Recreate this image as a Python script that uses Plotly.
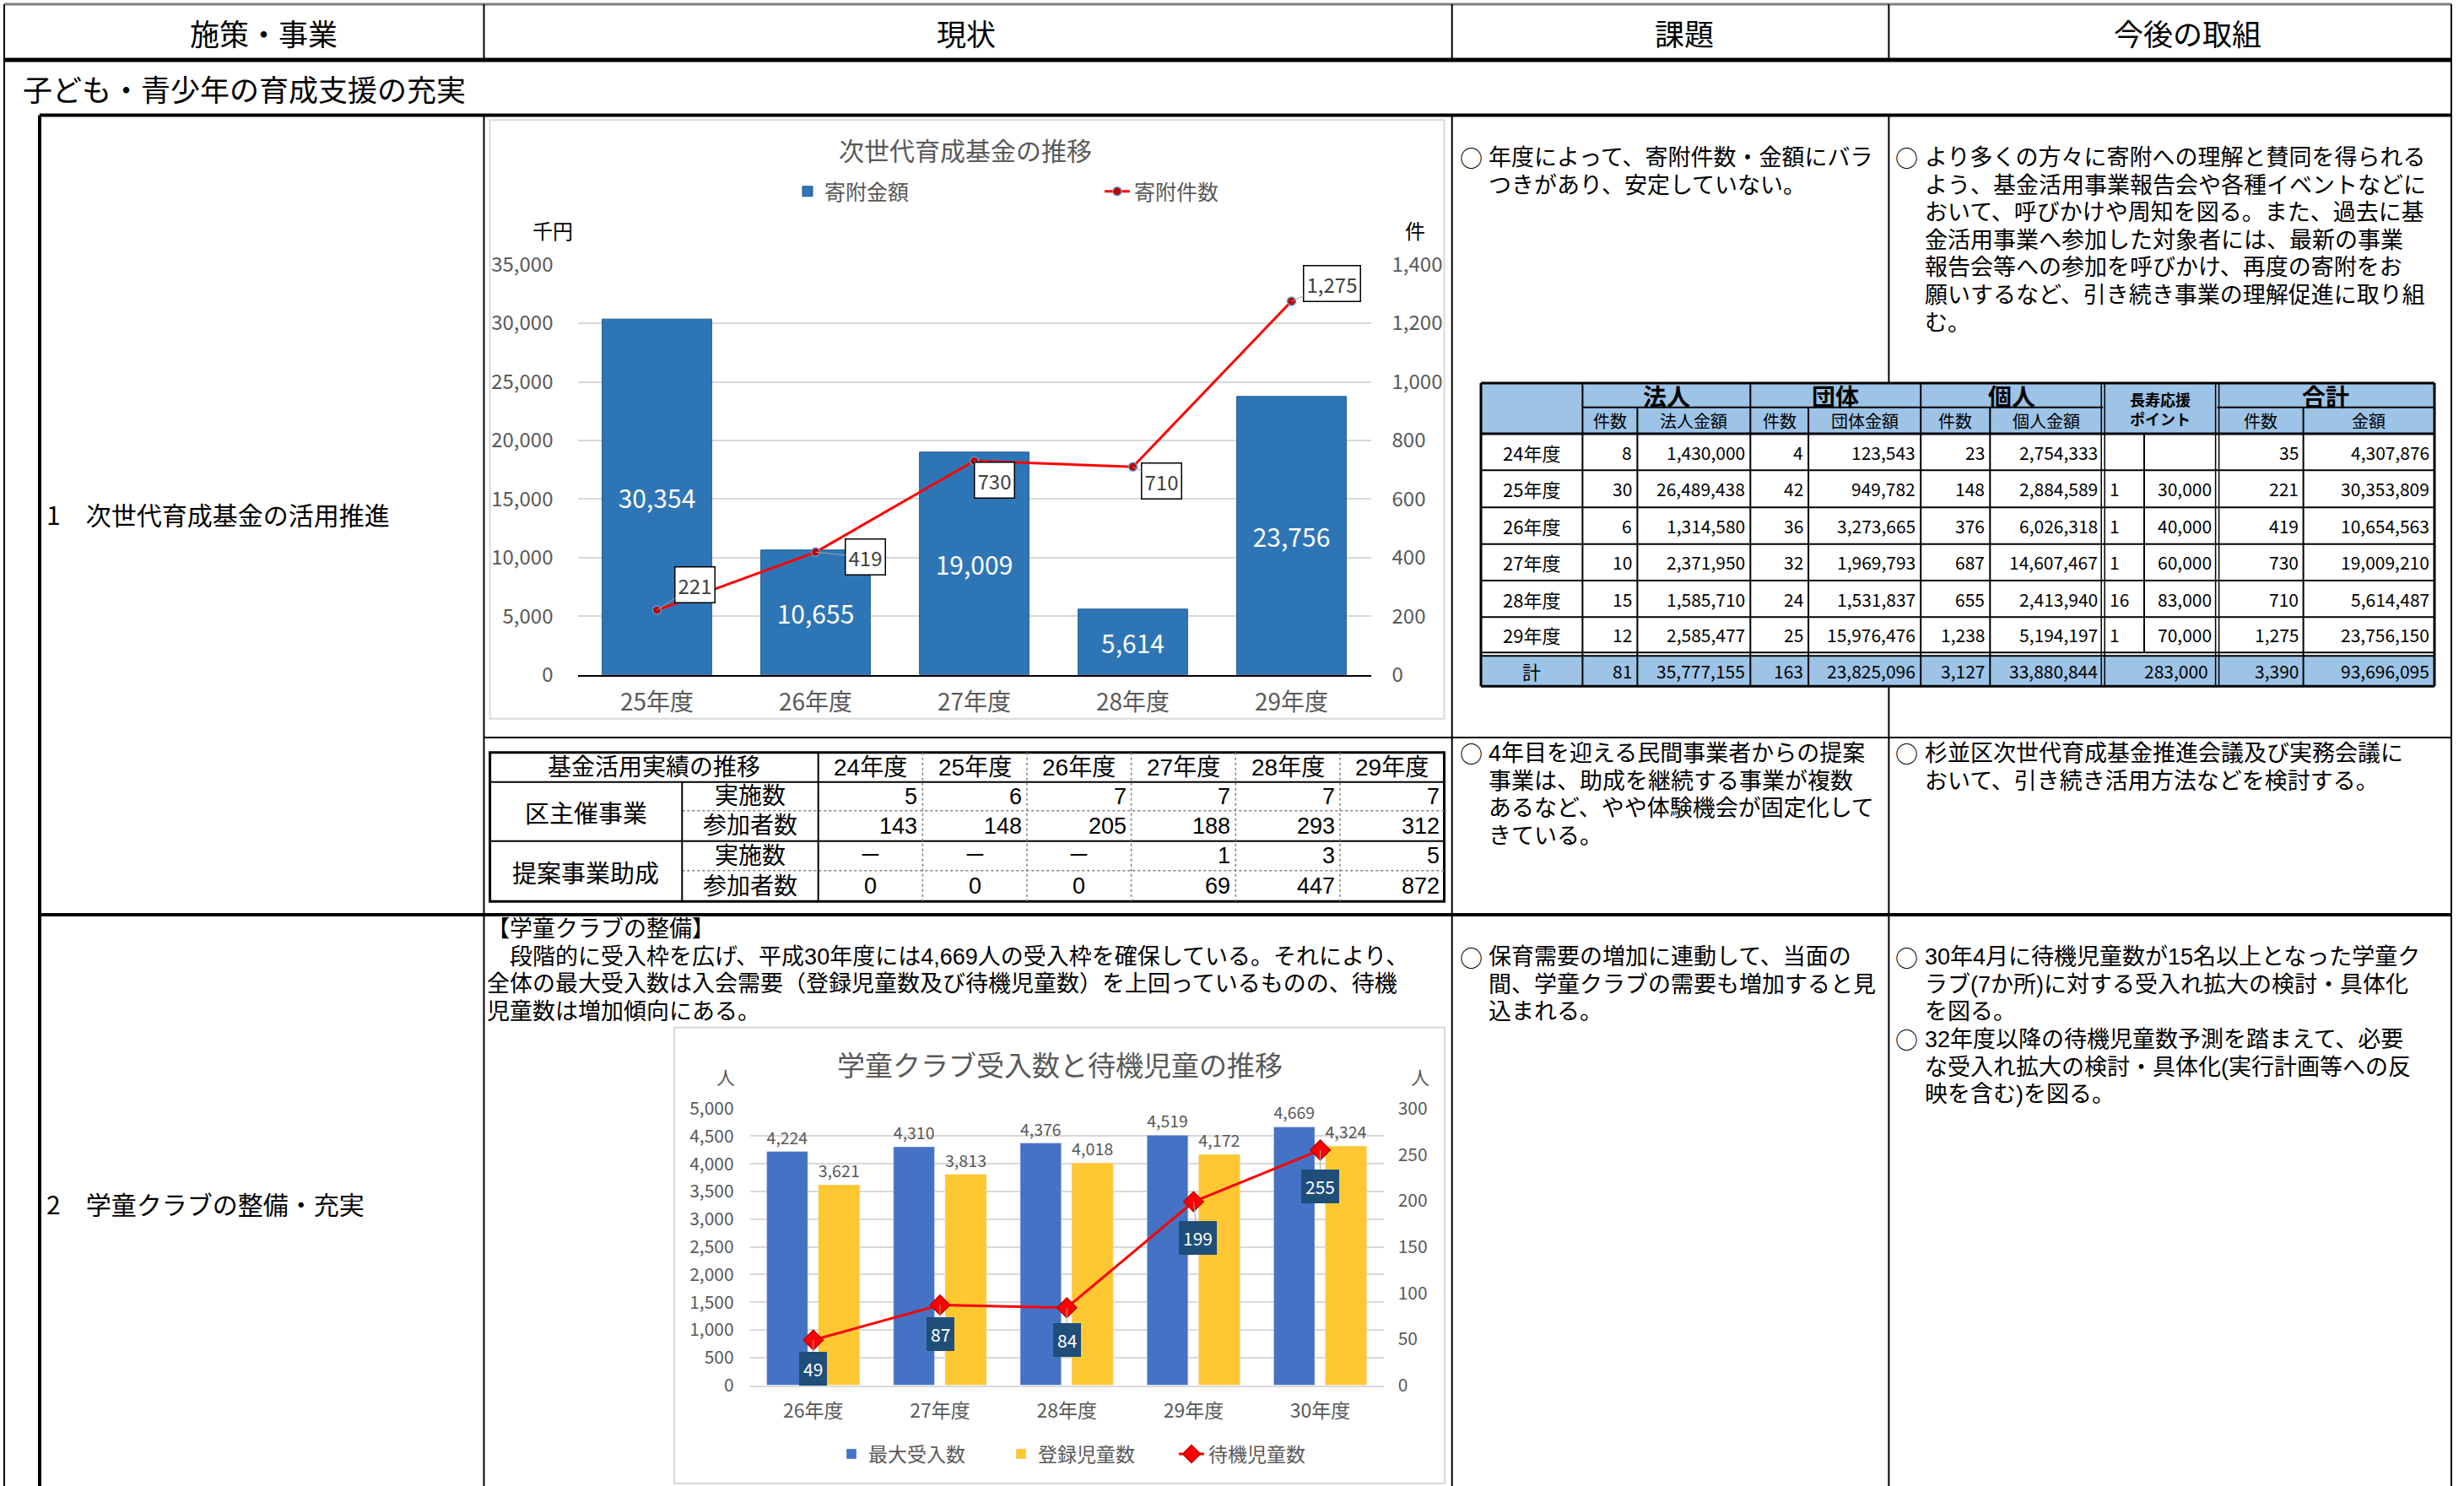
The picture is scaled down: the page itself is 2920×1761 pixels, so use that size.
import plotly.graph_objects as go

W, H = 2920, 1761
FONT = "Noto Sans CJK JP, Noto Sans, sans-serif"
BODY_FONT = "Liberation Sans, Noto Sans CJK JP, sans-serif"
GRAY = "#595959"

# ---------------- data ----------------
years1 = ["25年度", "26年度", "27年度", "28年度", "29年度"]
kifu_kingaku = [30354, 10655, 19009, 5614, 23756]      # 千円
kifu_kensu = [221, 419, 730, 710, 1275]                 # 件

years2 = ["26年度", "27年度", "28年度", "29年度", "30年度"]
max_ukeire = [4224, 4310, 4376, 4519, 4669]
toroku_jido = [3621, 3813, 4018, 4172, 4324]
taiki_jido = [49, 87, 84, 199, 255]

don_years = ["24年度", "25年度", "26年度", "27年度", "28年度", "29年度"]
hojin_n = [8, 30, 6, 10, 15, 12]
hojin_amt = [1430000, 26489438, 1314580, 2371950, 1585710, 2585477]
dantai_n = [4, 42, 36, 32, 24, 25]
dantai_amt = [123543, 949782, 3273665, 1969793, 1531837, 15976476]
kojin_n = [23, 148, 376, 687, 655, 1238]
kojin_amt = [2754333, 2884589, 6026318, 14607467, 2413940, 5194197]
choju_n = [None, 1, 1, 1, 16, 1]
choju_amt = [None, 30000, 40000, 60000, 83000, 70000]
total_n = [35, 221, 419, 730, 710, 1275]
total_amt = [4307876, 30353809, 10654563, 19009210, 5614487, 23756150]
don_sum_row = [81, 35777155, 163, 23825096, 3127, 33880844, 283000, 3390, 93696095]

fund_years = ["24年度", "25年度", "26年度", "27年度", "28年度", "29年度"]
ku_jisshi = [5, 6, 7, 7, 7, 7]
ku_sanka = [143, 148, 205, 188, 293, 312]
teian_jisshi = [None, None, None, 1, 3, 5]
teian_sanka = [0, 0, 0, 69, 447, 872]

headers = ["施策・事業", "現状", "課題", "今後の取組"]
section_title = "子ども・青少年の育成支援の充実"
item1 = "1　次世代育成基金の活用推進"
item2 = "2　学童クラブの整備・充実"

kadai1a = ["年度によって、寄附件数・金額にバラ", "つきがあり、安定していない。"]
kongo1a = ["より多くの方々に寄附への理解と賛同を得られる",
           "よう、基金活用事業報告会や各種イベントなどに",
           "おいて、呼びかけや周知を図る。また、過去に基",
           "金活用事業へ参加した対象者には、最新の事業",
           "報告会等への参加を呼びかけ、再度の寄附をお",
           "願いするなど、引き続き事業の理解促進に取り組",
           "む。"]
kadai1b = ["4年目を迎える民間事業者からの提案", "事業は、助成を継続する事業が複数",
           "あるなど、やや体験機会が固定化して", "きている。"]
kongo1b = ["杉並区次世代育成基金推進会議及び実務会議に", "おいて、引き続き活用方法などを検討する。"]
kadai2 = ["保育需要の増加に連動して、当面の", "間、学童クラブの需要も増加すると見", "込まれる。"]
kongo2a = ["30年4月に待機児童数が15名以上となった学童ク", "ラブ(7か所)に対する受入れ拡大の検討・具体化", "を図る。"]
kongo2b = ["32年度以降の待機児童数予測を踏まえて、必要", "な受入れ拡大の検討・具体化(実行計画等への反", "映を含む)を図る。"]
genjo2 = ["【学童クラブの整備】",
          "　段階的に受入枠を広げ、平成30年度には4,669人の受入枠を確保している。それにより、",
          "全体の最大受入数は入会需要（登録児童数及び待機児童数）を上回っているものの、待機",
          "児童数は増加傾向にある。"]

# ---------------- helpers ----------------
def X(px):
    return px / W


def Y(py):
    return 1 - py / H


shapes, annos = [], []


def line(x0, y0, x1, y1, color="black", width=2, dash="solid"):
    shapes.append(dict(type="line", xref="paper", yref="paper", x0=X(x0), y0=Y(y0),
                       x1=X(x1), y1=Y(y1), line=dict(color=color, width=width, dash=dash),
                       layer="above"))


def rect(x0, y0, x1, y1, fill="rgba(0,0,0,0)", color="rgba(0,0,0,0)", width=0, layer="below"):
    shapes.append(dict(type="rect", xref="paper", yref="paper", x0=X(x0), y0=Y(y0),
                       x1=X(x1), y1=Y(y1), fillcolor=fill, line=dict(color=color, width=width),
                       layer=layer))


def text(px, py, s, size=27, color="black", anchor="left", bold=False, family=FONT):
    annos.append(dict(xref="paper", yref="paper", x=X(px), y=Y(py),
                      text=(f"<b>{s}</b>" if bold else s), showarrow=False,
                      xanchor=anchor, yanchor="middle", borderpad=0, borderwidth=0,
                      font=dict(size=size, color=color, family=family)))


STEP = 32.6


def block(px, y_first, lines, size=27, step=STEP):
    """multi-line paragraph as one text; line pitch = 1.3 * base font size"""
    base = step / 1.3
    body = "<br>".join(f'<span style="font-size:{size}px">{s}</span>' for s in lines)
    yc = y_first + (len(lines) - 1) * step / 2
    annos.append(dict(xref="paper", yref="paper", x=X(px), y=Y(yc), text=body,
                      showarrow=False, xanchor="left", yanchor="middle", align="left",
                      borderpad=0, borderwidth=0,
                      font=dict(size=base, color="black", family=BODY_FONT)))


def fmt(v):
    return "" if v is None else f"{v:,}"


# ---------------- main table frame ----------------
C0, C1, C2, C3, C4 = 5, 573.5, 1720.7, 2238.4, 2905
TT, TB = 454, 813.3   # donation table top / bottom (covers column line C3)
line(C0, 5, C4, 5, color="#808080", width=3)
line(C0, 71, C4, 71, width=5)
line(47, 136.5, C4, 136.5, width=4)
line(47, 1084, C4, 1084, width=4)
line(C1, 874, C4, 874, width=2)
line(C0, 5, C0, H, width=2)
line(C4, 5, C4, H, width=2)
for cx_ in (C1, C2, C3):
    line(cx_, 5, cx_, 71, width=2)
line(C1, 136.5, C1, H, width=2)
line(C2, 136.5, C2, H, width=2)
line(C3, 136.5, C3, TT, width=2)
line(C3, TB, C3, H, width=2)
line(47, 136.5, 47, H, width=4)

for s, cx_ in zip(headers, (312, 1145, 1996, 2592)):
    text(cx_, 38, s, size=35, anchor="center")
text(27, 104, section_title, size=35)
text(55, 609, item1, size=30)
text(55, 1426, item2, size=30)


def bullet_block(xb, xt, y0, lines):
    text(xb, y0, "○", size=27)
    block(xt, y0, lines)


bullet_block(1730, 1764, 187, kadai1a)
bullet_block(2246, 2281, 187, kongo1a)
bullet_block(1730, 1764, 893, kadai1b)
bullet_block(2246, 2281, 893, kongo1b)
bullet_block(1730, 1764, 1134, kadai2)
bullet_block(2246, 2281, 1134, kongo2a)
bullet_block(2246, 2281, 1134 + 3 * STEP, kongo2b)
block(577, 1101, genjo2)

# ---------------- donation table ----------------
cx = [1755, 1875.4, 1940.4, 2074.3, 2143.1, 2276.2, 2358.3, 2492.2, 2541, 2627.6, 2729.6, 2885]
ty = [TT, 482.7, 514, 557.3, 601.3, 644.7, 688, 731.3, 773.3]
tot0, tot1 = 777.3, TB
BLUE_FILL = "#9DC3E6"
rect(cx[0], ty[0], cx[-1], ty[2], fill=BLUE_FILL)
rect(cx[0], tot0, cx[-1], tot1, fill=BLUE_FILL)
line(cx[0], ty[0], cx[-1], ty[0], width=3)
line(cx[1], ty[1], cx[7], ty[1], width=2)
line(cx[9], ty[1], cx[-1], ty[1], width=2)
line(cx[0], ty[2], cx[-1], ty[2], width=3)
for yy in ty[3:8]:
    line(cx[0], yy, cx[-1], yy, width=2)
line(cx[0], ty[8], cx[-1], ty[8], width=2)
line(cx[0], tot0, cx[-1], tot0, width=2)
line(cx[0], tot1, cx[-1], tot1, width=3)
line(cx[0], ty[0], cx[0], tot1, width=3)
line(cx[-1], ty[0], cx[-1], tot1, width=3)
for i in (1, 3, 5):
    line(cx[i], ty[0], cx[i], tot1, width=2)
for i in (2, 4, 6, 10):
    line(cx[i], ty[1], cx[i], tot1, width=2)
for i in (7, 9):
    line(cx[i] - 2, ty[0], cx[i] - 2, tot1, width=1.5)
    line(cx[i] + 2, ty[0], cx[i] + 2, tot1, width=1.5)
line(cx[8], ty[2], cx[8], ty[8], width=2)

hy1 = (ty[0] + ty[1]) / 2
hy2 = (ty[1] + ty[2]) / 2
for lab, a, b in (("法人", 1, 3), ("団体", 3, 5), ("個人", 5, 7), ("合計", 9, 11)):
    text((cx[a] + cx[b]) / 2, hy1 + 1, lab, size=28, anchor="center", bold=True)
text((cx[7] + cx[9]) / 2, 473, "長寿応援", size=18, anchor="center", bold=True)
text((cx[7] + cx[9]) / 2, 496, "ポイント", size=18, anchor="center", bold=True)
for lab, a in (("件数", 1), ("法人金額", 2), ("件数", 3), ("団体金額", 4), ("件数", 5),
               ("個人金額", 6), ("件数", 9), ("金額", 10)):
    text((cx[a] + cx[a + 1]) / 2, hy2, lab, size=20, anchor="center")

NS = 21
for i, yr in enumerate(don_years):
    yy = (ty[2 + i] + ty[3 + i]) / 2
    text((cx[0] + cx[1]) / 2, yy, yr, size=22, anchor="center")
    vals = [hojin_n[i], hojin_amt[i], dantai_n[i], dantai_amt[i], kojin_n[i], kojin_amt[i]]
    for k, v in enumerate(vals):
        text(cx[k + 2] - 6, yy, fmt(v), size=NS, anchor="right")
    if choju_n[i] is not None:
        text(cx[7] + 8, yy, fmt(choju_n[i]), size=NS, anchor="left")
        text(cx[9] - 7, yy, fmt(choju_amt[i]), size=NS, anchor="right")
    text(cx[10] - 6, yy, fmt(total_n[i]), size=NS, anchor="right")
    text(cx[11] - 6, yy, fmt(total_amt[i]), size=NS, anchor="right")
ytot = (tot0 + tot1) / 2
text((cx[0] + cx[1]) / 2, ytot, "計", size=22, anchor="center")
right_edges = [cx[2], cx[3], cx[4], cx[5], cx[6], cx[7], cx[9] - 5, cx[10], cx[11]]
for v, re_ in zip(don_sum_row, right_edges):
    text(re_ - 6, ytot, fmt(v), size=NS, anchor="right")

# ---------------- fund usage table ----------------
fx = [580.6, 808.3, 969.7, 1093.4, 1217, 1340.6, 1464.3, 1587.9, 1711.5]
fy = [891.7, 926.7, 960.7, 996.7, 1031.7, 1068.3]
rect(fx[0], fy[0], fx[-1], fy[-1], color="black", width=3, layer="above")
line(fx[0], fy[1], fx[-1], fy[1], width=2)
line(fx[0], fy[3], fx[-1], fy[3], width=2)
line(fx[1], fy[2], fx[-1], fy[2], color="#808080", width=1.5, dash="dot")
line(fx[1], fy[4], fx[-1], fy[4], color="#808080", width=1.5, dash="dot")
line(fx[2], fy[0], fx[2], fy[-1], width=2)
line(fx[1], fy[1], fx[1], fy[-1], width=2)
for xx in fx[3:8]:
    line(xx, fy[0], xx, fy[-1], color="#808080", width=1.5, dash="dot")

FS = 28
FN = 27
text((fx[0] + fx[2]) / 2, (fy[0] + fy[1]) / 2, "基金活用実績の推移", size=FS, anchor="center",
     family=BODY_FONT)
for j, yr in enumerate(fund_years):
    text((fx[2 + j] + fx[3 + j]) / 2, (fy[0] + fy[1]) / 2, yr, size=FS, anchor="center",
         family=BODY_FONT)
text((fx[0] + fx[1]) / 2, (fy[1] + fy[3]) / 2, "区主催事業", size=29, anchor="center")
text((fx[0] + fx[1]) / 2, (fy[3] + fy[5]) / 2, "提案事業助成", size=29, anchor="center")
for r, lab in enumerate(["実施数", "参加者数", "実施数", "参加者数"]):
    text((fx[1] + fx[2]) / 2, (fy[1 + r] + fy[2 + r]) / 2, lab, size=FS, anchor="center",
         family=BODY_FONT)
rows = [ku_jisshi, ku_sanka, teian_jisshi, teian_sanka]
for r, vals in enumerate(rows):
    yy = (fy[1 + r] + fy[2 + r]) / 2
    for j, v in enumerate(vals):
        centered = teian_jisshi[j] is None and r >= 2
        s = "－" if v is None else fmt(v)
        if centered:
            text((fx[2 + j] + fx[3 + j]) / 2, yy, s, size=FN, anchor="center", family=BODY_FONT)
        else:
            text(fx[3 + j] - 6, yy, s, size=FN, anchor="right", family=BODY_FONT)

# ---------------- chart boxes ----------------
rect(580.6, 142.3, 1711.5, 851.7, color="#D9D9D9", width=2)
rect(799, 1217.7, 1712, 1758, color="#D9D9D9", width=2)

# chart 1 texts
text(1144, 177, "次世代育成基金の推移", size=30, color=GRAY, anchor="center")
text(655, 272, "千円", size=24, anchor="center")
text(1677, 272, "件", size=24, anchor="center")
# chart 2 texts
text(1256, 1261, "学童クラブ受入数と待機児童の推移", size=33, color=GRAY, anchor="center")
text(860, 1275, "人", size=22, color=GRAY, anchor="center")
text(1683, 1275, "人", size=22, color=GRAY, anchor="center")

# ---------------- traces ----------------
fig = go.Figure()
fig.add_trace(go.Bar(
    x=years1, y=kifu_kingaku, name="寄附金額", xaxis="x", yaxis="y", legend="legend",
    width=0.69, marker=dict(color="#2E75B6", line=dict(color="#1F5A91", width=1)),
    texttemplate="%{y:,}", textposition="inside", insidetextanchor="middle",
    constraintext="none", textfont=dict(color="white", size=30, family=FONT)))
fig.add_trace(go.Scatter(
    x=years1, y=kifu_kensu, name="寄附件数", xaxis="x", yaxis="y2", legend="legend2",
    mode="lines+markers", line=dict(color="#FF0000", width=3),
    marker=dict(symbol="circle", size=10, color="#C00000", line=dict(color="#5B9BD5", width=1.5))))

fig.add_trace(go.Bar(
    x=years2, y=max_ukeire, name="最大受入数", xaxis="x2", yaxis="y3", legend="legend3",
    width=0.324, offset=-0.3675, marker=dict(color="#4472C4"),
    texttemplate="%{y:,}", textposition="outside", cliponaxis=False,
    textfont=dict(color=GRAY, size=23, family=FONT)))
fig.add_trace(go.Bar(
    x=years2, y=toroku_jido, name="登録児童数", xaxis="x2", yaxis="y3", legend="legend4",
    width=0.328, offset=0.039, marker=dict(color="#FFC832"),
    texttemplate="%{y:,}", textposition="outside", cliponaxis=False,
    textfont=dict(color=GRAY, size=23, family=FONT)))
fig.add_trace(go.Scatter(
    x=years2, y=taiki_jido, name="待機児童数", xaxis="x2", yaxis="y4", legend="legend5",
    mode="lines+markers", line=dict(color="#FF0000", width=3),
    marker=dict(symbol="diamond", size=18, color="#FF0000", line=dict(color="#C00000", width=1.5))))

# data labels for the lines
lbl1_off = [(45, -30), (59, 6), (24, 23), (34, 17), (48, -21)]
for xv, yv, (ax, ay) in zip(years1, kifu_kensu, lbl1_off):
    annos.append(dict(xref="x", yref="y2", x=xv, y=yv, text=f"{yv:,}", showarrow=True,
                      arrowhead=0, arrowwidth=1, arrowcolor="#A6A6A6", ax=ax, ay=ay,
                      bgcolor="white", bordercolor="black", borderwidth=1.5, borderpad=3,
                      font=dict(size=24, color="#404040", family=FONT)))
lbl2_off = [(0, 34), (0, 35), (0, 38), (5, 43), (0, 43)]
for xv, yv, (ax, ay) in zip(years2, taiki_jido, lbl2_off):
    annos.append(dict(xref="x2", yref="y4", x=xv, y=yv, text=f"{yv:,}", showarrow=True,
                      arrowhead=0, arrowwidth=1, arrowcolor="#A6A6A6", ax=ax, ay=ay,
                      bgcolor="#1F4E79", borderwidth=0, borderpad=5,
                      font=dict(size=21, color="white", family=FONT)))

tick1 = dict(size=24, color=GRAY, family=FONT)
tick2 = dict(size=21, color=GRAY, family=FONT)


def leg(px, py, size):
    return dict(x=X(px), y=Y(py), xanchor="left", yanchor="middle", orientation="h",
                bgcolor="rgba(0,0,0,0)", borderwidth=0, font=dict(size=size, color=GRAY, family=FONT))


fig.update_layout(
    width=W, height=H, margin=dict(l=0, r=0, t=0, b=0, autoexpand=False),
    paper_bgcolor="white", plot_bgcolor="rgba(0,0,0,0)",
    font=dict(family=FONT), barmode="overlay", showlegend=True,
    xaxis=dict(domain=[X(684.5), X(1624.5)], anchor="y", showgrid=False, showline=True,
               linecolor="black", linewidth=2, tickfont=dict(size=28, color=GRAY, family=FONT),
               ticklabelstandoff=7, fixedrange=True),
    yaxis=dict(domain=[Y(799.8), Y(313.6)], anchor="x", range=[0, 35000], dtick=5000,
               tickformat=",", showgrid=True, gridcolor="#D9D9D9", gridwidth=1.5,
               zeroline=False, tickfont=tick1, ticklabelstandoff=28, fixedrange=True),
    yaxis2=dict(overlaying="y", side="right", anchor="x", range=[0, 1400], dtick=200,
                tickformat=",", showgrid=False, zeroline=False, tickfont=tick1,
                ticklabelstandoff=24, fixedrange=True),
    xaxis2=dict(domain=[X(888.7), X(1639.7)], anchor="y3", showgrid=False, showline=True,
                linecolor="#D9D9D9", linewidth=1.5, tickfont=dict(size=23, color=GRAY, family=FONT),
                ticklabelstandoff=9, fixedrange=True),
    yaxis3=dict(domain=[Y(1641.5), Y(1313.7)], anchor="x2", range=[0, 5000], dtick=500,
                tickformat=",", showgrid=True, gridcolor="#D9D9D9", gridwidth=1.5,
                zeroline=False, tickfont=tick2, ticklabelstandoff=18, fixedrange=True),
    yaxis4=dict(overlaying="y3", side="right", anchor="x2", range=[0, 300], dtick=50,
                showgrid=False, zeroline=False, tickfont=tick2, ticklabelstandoff=16,
                fixedrange=True),
    legend=leg(937, 227, 25), legend2=leg(1304, 227, 25),
    legend3=leg(989, 1723, 23), legend4=leg(1190, 1723, 23), legend5=leg(1392, 1723, 23),
    shapes=shapes, annotations=annos,
)

fig.write_html("out.html", config={"displayModeBar": False},
               post_script="document.body.style.margin='0';document.body.style.overflow='hidden';")
